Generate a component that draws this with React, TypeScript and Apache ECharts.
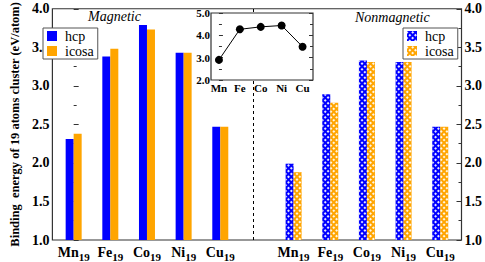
import React, { useEffect, useRef } from "react";
import * as echarts from "echarts";

const elements = ["Mn", "Fe", "Co", "Ni", "Cu"];
const magPositions = [0, 1, 2, 3, 4];
const nonPositions = [6, 7, 8, 9, 10];
const magHcp = [2.31, 3.38, 3.79, 3.43, 2.47];
const magIcosa = [2.38, 3.48, 3.73, 3.43, 2.47];
const nonHcp = [1.99, 2.89, 3.33, 3.31, 2.47];
const nonIcosa = [1.88, 2.78, 3.31, 3.31, 2.47];
const insetValues = [2.9, 4.27, 4.38, 4.44, 3.49];

const BLUE = "#0000ff";
const ORANGE = "#ffa500";
const FONT = "'Liberation Serif', 'Times New Roman', serif";

function fullSeries(positions: number[], values: number[]) {
  const out: any[] = [];
  for (let i = 0; i <= 10; i++) {
    const k = positions.indexOf(i);
    out.push([i, k >= 0 ? values[k] : "-"]);
  }
  return out;
}

const decal = {
  symbol: "rect",
  symbolSize: 1,
  color: "rgba(255,255,255,0.9)",
  dashArrayX: [[1.5, 1.5]],
  dashArrayY: [1.5, 1.5],
  rotation: Math.PI / 4,
};

const tickRich = {
  v: { fontFamily: FONT, fontWeight: "bold", fontSize: 14, color: "#000" },
};
const insetRich = {
  v: { fontFamily: FONT, fontWeight: "bold", fontSize: 11, color: "#000" },
};

export default function App() {
  const ref = useRef<HTMLDivElement>(null);
  useEffect(() => {
    if (!ref.current) return;
    const chart = echarts.init(ref.current, null, { renderer: "svg" });
    const labelPositions = magPositions.concat(nonPositions);
    const legendBase = {
      orient: "vertical",
      top: 28,
      itemWidth: 10,
      itemHeight: 10,
      itemGap: 1,
      padding: [1, 4, 1, 4],
      borderColor: "#555",
      borderWidth: 1,
      backgroundColor: "#fff",
      icon: "rect",
      formatter: (n: string) => "{t|" + n.replace("2", "") + "}",
      textStyle: {
        fontFamily: FONT,
        fontSize: 14,
        color: "#000",
        rich: {
          t: { fontFamily: FONT, fontSize: 14, color: "#000", lineHeight: 11, padding: [0, 0, 0, 3] },
        },
      },
    };
    const option: any = {
      animation: false,
      backgroundColor: "#fff",
      textStyle: { fontFamily: FONT },
      legend: [
        { ...legendBase, data: ["hcp", "icosa"], left: 43 },
        { ...legendBase, data: ["hcp2", "icosa2"], left: 403 },
      ],
      grid: [
        {
          left: 38,
          top: 8,
          width: 424,
          height: 234,
          show: true,
          borderColor: "#333",
          borderWidth: 1.2,
          backgroundColor: "#fff",
          containLabel: false,
        },
        {
          left: 211,
          top: 13,
          width: 102,
          height: 67,
          show: true,
          borderColor: "#333",
          borderWidth: 1.2,
          backgroundColor: "#fff",
          z: 10,
          containLabel: false,
        },
      ],
      xAxis: [
        {
          type: "value",
          gridIndex: 0,
          min: -0.58,
          max: 10.58,
          axisLine: { show: false },
          axisTick: { show: false },
          splitLine: { show: false },
          axisLabel: {
            customValues: labelPositions,
            margin: 3,
            formatter: (v: number) => {
              const idx = v > 5 ? v - 6 : v;
              return "{b|" + elements[idx] + "}{s|19}";
            },
            rich: {
              b: { fontFamily: FONT, fontWeight: "bold", fontSize: 14, color: "#000" },
              s: {
                fontFamily: FONT,
                fontWeight: "bold",
                fontSize: 11,
                color: "#000",
                padding: [8, 0, 0, 0],
              },
            },
          },
        },
        {
          type: "value",
          gridIndex: 1,
          min: -0.38,
          max: 4.5,
          z: 11,
          axisLine: { show: false },
          axisTick: { show: false },
          splitLine: { show: false },
          axisLabel: {
            customValues: [0, 1, 2, 3, 4],
            margin: 2,
            formatter: (v: number) => "{v|" + elements[v] + "}",
            rich: insetRich,
          },
        },
      ],
      yAxis: [
        {
          type: "value",
          gridIndex: 0,
          min: 1,
          max: 4,
          interval: 0.5,
          name: "{n|Binding  energy of 19 atoms cluster (eV/atom)}",
          nameLocation: "middle",
          nameRotate: 90,
          nameGap: 26,
          nameTextStyle: {
            rich: { n: { fontFamily: FONT, fontWeight: "bold", fontSize: 12.5, color: "#000" } },
          },
          axisLine: { show: false },
          axisTick: { show: true, inside: true, length: 5, lineStyle: { color: "#333" } },
          minorTick: { show: true, splitNumber: 2, length: 3, lineStyle: { color: "#333" } },
          splitLine: { show: false },
          axisLabel: {
            margin: 3,
            formatter: (v: number) => "{v|" + v.toFixed(1) + "}",
            rich: tickRich,
          },
        },
        {
          type: "value",
          gridIndex: 0,
          position: "right",
          min: 1,
          max: 4,
          interval: 0.5,
          axisLine: { show: false },
          axisTick: { show: true, inside: true, length: 5, lineStyle: { color: "#333" } },
          minorTick: { show: true, splitNumber: 2, length: 3, lineStyle: { color: "#333" } },
          splitLine: { show: false },
          axisLabel: {
            margin: 3,
            formatter: (v: number) => "{v|" + v.toFixed(1) + "}",
            rich: tickRich,
          },
        },
        {
          type: "value",
          gridIndex: 1,
          min: 2,
          max: 5,
          interval: 1,
          z: 11,
          axisLine: { show: false },
          axisTick: { show: true, inside: true, length: 4, lineStyle: { color: "#333" } },
          minorTick: { show: true, splitNumber: 2, length: 3, lineStyle: { color: "#333" } },
          splitLine: { show: false },
          axisLabel: {
            margin: 1,
            formatter: (v: number) => "{v|" + v.toFixed(1) + "}",
            rich: insetRich,
          },
        },
        {
          type: "value",
          gridIndex: 1,
          position: "right",
          min: 2,
          max: 5,
          interval: 1,
          z: 11,
          axisLine: { show: false },
          axisTick: { show: true, inside: true, length: 4, lineStyle: { color: "#333" } },
          minorTick: { show: true, splitNumber: 2, length: 3, lineStyle: { color: "#333" } },
          splitLine: { show: false },
          axisLabel: { show: false },
        },
      ],
      series: [
        {
          name: "hcp",
          type: "bar",
          xAxisIndex: 0,
          yAxisIndex: 0,
          stack: "hcp",
          barWidth: 8,
          barGap: "0%",
          itemStyle: { color: BLUE },
          data: fullSeries(magPositions, magHcp),
          markLine: {
            silent: true,
            symbol: "none",
            label: { show: false },
            lineStyle: { color: "#000", type: [3, 3], width: 1 },
            data: [{ xAxis: 5 }],
          },
          z: 2,
        },
        {
          name: "icosa",
          type: "bar",
          xAxisIndex: 0,
          yAxisIndex: 0,
          stack: "icosa",
          barWidth: 8,
          barGap: "0%",
          itemStyle: { color: ORANGE },
          data: fullSeries(magPositions, magIcosa),
          z: 2,
        },
        {
          name: "hcp2",
          type: "bar",
          xAxisIndex: 0,
          yAxisIndex: 0,
          stack: "hcp",
          barWidth: 8,
          barGap: "0%",
          itemStyle: { color: BLUE, decal },
          data: fullSeries(nonPositions, nonHcp),
          z: 2,
        },
        {
          name: "icosa2",
          type: "bar",
          xAxisIndex: 0,
          yAxisIndex: 0,
          stack: "icosa",
          barWidth: 8,
          barGap: "0%",
          itemStyle: { color: ORANGE, decal },
          data: fullSeries(nonPositions, nonIcosa),
          z: 2,
        },
        {
          name: "inset",
          type: "line",
          xAxisIndex: 1,
          yAxisIndex: 2,
          symbol: "circle",
          symbolSize: 8,
          itemStyle: { color: "#000" },
          lineStyle: { color: "#000", width: 1 },
          data: insetValues.map((v, i) => [i, v]),
          z: 12,
        },
      ],
      graphic: [
        {
          type: "text",
          left: 88,
          top: 9,
          z: 5,
          style: {
            text: "{i|Magnetic}",
            rich: { i: { fontFamily: FONT, fontStyle: "italic", fontSize: 14, fill: "#000", color: "#000" } },
          },
        },
        {
          type: "text",
          left: 355,
          top: 10,
          z: 5,
          style: {
            text: "{i|Nonmagnetic}",
            rich: { i: { fontFamily: FONT, fontStyle: "italic", fontSize: 14, fill: "#000", color: "#000" } },
          },
        },
      ],
    };
    chart.setOption(option);
    return () => chart.dispose();
  }, []);
  return <div ref={ref} style={{ width: 485, height: 262, position: "absolute", left: 0, top: 0 }} />;
}
